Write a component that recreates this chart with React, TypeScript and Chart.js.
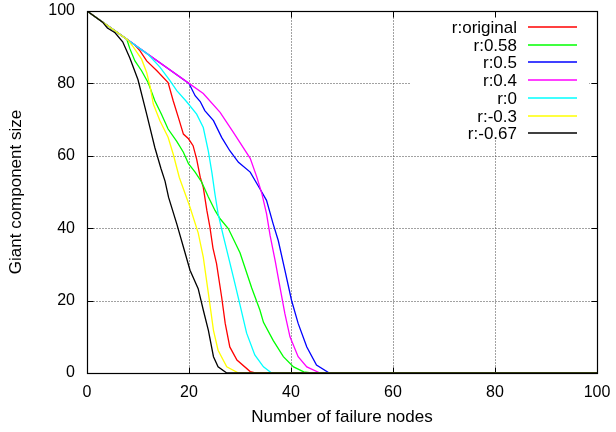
import React, { useEffect, useRef } from 'react';
import { Chart, registerables } from 'chart.js';

Chart.register(...registerables);

// ---- data ----
const seriesLabels = ['r:original', 'r:0.58', 'r:0.5', 'r:0.4', 'r:0', 'r:-0.3', 'r:-0.67'];
const seriesColors = ['#ff0000', '#00ff00', '#0000ff', '#ff00ff', '#00ffff', '#ffff00', '#000000'];

const xTicks = [0, 20, 40, 60, 80, 100];
const yTicks = [0, 20, 40, 60, 80, 100];

const originalX = [0, 9.4, 10.4, 11.7, 13.7, 15.9, 16.9, 18, 18.9, 19.9, 20.8, 21.5, 22.2, 22.8, 23.5, 24.1, 24.7, 25.4, 26.4, 27.1, 28, 29.4, 32, 33, 100];
const originalY = [100, 90.6, 89, 86.2, 83.5, 80.2, 75.2, 70.2, 66, 64.7, 62.8, 59.1, 54.1, 51.3, 44.9, 40.3, 34.5, 30.2, 21, 13.7, 7.2, 3.6, 0.4, 0, 0];

const r058X = [0, 7.8, 8.4, 9.4, 10.7, 12, 13.3, 14.6, 15.9, 17.6, 18.9, 19.9, 21.2, 22.5, 23.8, 25.1, 26.1, 27.7, 30, 32.3, 33.9, 34.6, 36.5, 38.5, 40.5, 42.5, 44, 100];
const r058Y = [100, 92.2, 89.6, 86.2, 83.5, 80.2, 75.2, 71.5, 67.4, 64, 61, 57.8, 55.5, 52.7, 48.6, 44.9, 42.6, 39.9, 33.2, 23.5, 17.4, 14, 9, 4.5, 1.7, 0.3, 0, 0];

const r05X = [0, 20, 21.2, 22.2, 23.1, 24.8, 26.4, 28, 29.7, 32, 33.9, 35.2, 36.5, 37.5, 38.8, 40.1, 41.4, 43.1, 45, 47.5, 100];
const r05Y = [100, 80, 76.6, 75, 72.5, 69.7, 65.1, 61.4, 58.2, 55.5, 50.9, 47.7, 41.2, 36.6, 28.4, 20.1, 13.7, 7.2, 2.2, 0, 0];

const r04X = [0, 20, 22.8, 26.1, 28.7, 32, 33.3, 34.3, 35.2, 35.9, 36.9, 37.8, 38.8, 39.8, 41.4, 43.1, 45.7, 100];
const r04Y = [100, 80, 77.2, 72, 66.5, 59.3, 54.1, 49.5, 44, 38, 31, 24, 16.4, 10, 4.5, 1.7, 0, 0];

const r0X = [0, 12, 14.3, 16.3, 17.6, 19.5, 21.5, 22.8, 23.8, 24.5, 25.1, 25.7, 26.7, 28.7, 30, 31.3, 32.9, 34.6, 36.2, 100];
const r0Y = [100, 88, 84.5, 80.7, 78, 75, 71.5, 67.8, 61.2, 55.3, 49.3, 44, 38, 26.5, 18.8, 11, 5, 1.7, 0, 0];

const rm03X = [0, 8, 9.1, 10.7, 11.7, 12.4, 13, 14.3, 15.9, 16.9, 18.1, 20.2, 21.8, 22.8, 23.8, 24.8, 25.7, 27.4, 29.7, 100];
const rm03Y = [100, 92, 90, 86.7, 83, 79, 74.3, 69.7, 65.1, 60.5, 54, 45.8, 38.7, 32, 22, 11.8, 6.3, 1.7, 0, 0];

const rm067X = [0, 3, 4, 5.5, 7, 8.4, 10, 11.7, 13.3, 14.5, 15.3, 16, 17.6, 18.9, 20.2, 21.8, 22.8, 23.8, 24.8, 25.7, 27.4, 100];
const rm067Y = [100, 97, 95.3, 94, 91.5, 87, 81, 71.5, 62.3, 56.5, 53, 48.5, 41.2, 34.8, 28.4, 23.3, 17.4, 11.8, 4.5, 1.7, 0, 0];

const seriesX = [originalX, r058X, r05X, r04X, r0X, rm03X, rm067X];
const seriesY = [originalY, r058Y, r05Y, r04Y, r0Y, rm03Y, rm067Y];

const FONT = '"Liberation Sans", Arial, Helvetica, sans-serif';

const framePlugin = {
  id: 'gnuframe',
  beforeDatasetsDraw(chart: any) {
    const { ctx, chartArea: a, scales } = chart;
    const L = Math.round(a.left) + 0.5, R = Math.round(a.right) + 0.5;
    const T = Math.round(a.top) + 0.5, B = Math.round(a.bottom) + 0.5;
    const xs = scales.x.ticks.map((t: any) => Math.round(scales.x.getPixelForValue(t.value)) + 0.5).filter((p: number) => p > L + 1 && p < R - 1);
    const ys = scales.y.ticks.map((t: any) => Math.round(scales.y.getPixelForValue(t.value)) + 0.5).filter((p: number) => p > T + 1 && p < B - 1);
    ctx.save();
    ctx.strokeStyle = '#444';
    ctx.lineWidth = 1;
    ctx.setLineDash([1, 2]);
    ctx.beginPath();
    xs.forEach((p: number) => { ctx.moveTo(p, T); ctx.lineTo(p, B); });
    ys.forEach((p: number) => { ctx.moveTo(L, p); ctx.lineTo(R, p); });
    ctx.stroke();
    ctx.setLineDash([]);
    // blank key area
    ctx.fillStyle = '#ffffff';
    ctx.fillRect(a.right - 187, a.top + 1, 179, 128);
    // tick marks (mirrored)
    ctx.strokeStyle = '#000';
    ctx.beginPath();
    xs.forEach((p: number) => { ctx.moveTo(p, B); ctx.lineTo(p, B - 6); ctx.moveTo(p, T); ctx.lineTo(p, T + 6); });
    ys.forEach((p: number) => { ctx.moveTo(L, p); ctx.lineTo(L + 6, p); ctx.moveTo(R, p); ctx.lineTo(R - 6, p); });
    ctx.stroke();
    ctx.restore();
  },
  afterDatasetsDraw(chart: any) {
    const { ctx, chartArea: a } = chart;
    const L = Math.round(a.left) + 0.5, R = Math.round(a.right) + 0.5;
    const T = Math.round(a.top) + 0.5, B = Math.round(a.bottom) + 0.5;
    ctx.save();
    ctx.strokeStyle = '#000';
    ctx.lineWidth = 1.2;
    ctx.strokeRect(L, T, R - L, B - T);
    // key
    ctx.font = '17px ' + FONT;
    ctx.textAlign = 'right';
    ctx.textBaseline = 'middle';
    seriesLabels.forEach((lab, i) => {
      const y = Math.round(a.top + 16 + i * 17.7);
      ctx.fillStyle = '#000';
      ctx.fillText(lab, a.right - 80, y + 1);
      ctx.strokeStyle = seriesColors[i];
      ctx.lineWidth = 1.5;
      ctx.beginPath();
      ctx.moveTo(a.right - 69, y);
      ctx.lineTo(a.right - 20, y);
      ctx.stroke();
    });
    ctx.restore();
  },
};

export default function App() {
  const ref = useRef<HTMLCanvasElement>(null);
  useEffect(() => {
    if (!ref.current) return;
    const datasets = seriesLabels.map((label, i) => ({
      label,
      data: seriesX[i].map((x, j) => ({ x, y: seriesY[i][j] })),
      borderColor: seriesColors[i],
      backgroundColor: seriesColors[i],
      borderWidth: 1.3,
      pointRadius: 0,
      tension: 0,
      fill: false,
      order: seriesLabels.length - i,
    }));
    const chart = new Chart(ref.current, {
      type: 'line',
      data: { datasets },
      options: {
        animation: false,
        responsive: false,
        devicePixelRatio: 1,
        layout: { padding: { top: 11, right: 19, left: 0, bottom: 0 } },
        plugins: { legend: { display: false }, tooltip: { enabled: false } },
        scales: {
          x: {
            type: 'linear',
            min: 0,
            max: 100,
            afterBuildTicks: (s: any) => { s.ticks = xTicks.map((v) => ({ value: v })); },
            afterFit: (s: any) => { s.height = 59; s.paddingLeft = 0; s.paddingRight = 0; },
            grid: { display: false, drawTicks: false },
            border: { display: false },
            ticks: { color: '#000', padding: 10, maxRotation: 0, font: { family: FONT, size: 16 } },
            title: { display: true, text: 'Number of failure nodes', color: '#000', font: { family: FONT, size: 17 }, padding: { top: 0, bottom: 4 } },
          },
          y: {
            type: 'linear',
            min: 0,
            max: 100,
            afterBuildTicks: (s: any) => { s.ticks = yTicks.map((v) => ({ value: v })); },
            afterFit: (s: any) => { s.width = 87; s.paddingTop = 0; s.paddingBottom = 0; },
            grid: { display: false, drawTicks: false },
            border: { display: false },
            ticks: { color: '#000', padding: 12, font: { family: FONT, size: 16 } },
            title: { display: true, text: 'Giant component size', color: '#000', font: { family: FONT, size: 17 }, padding: { top: 6, bottom: 0 } },
          },
        },
      },
      plugins: [framePlugin],
    } as any);
    return () => chart.destroy();
  }, []);
  return (
    <div style={{ position: 'absolute', left: 0, top: 0, width: 616, height: 432, background: '#fff' }}>
      <canvas ref={ref} width={616} height={432} style={{ display: 'block', width: 616, height: 432 }} />
    </div>
  );
}
